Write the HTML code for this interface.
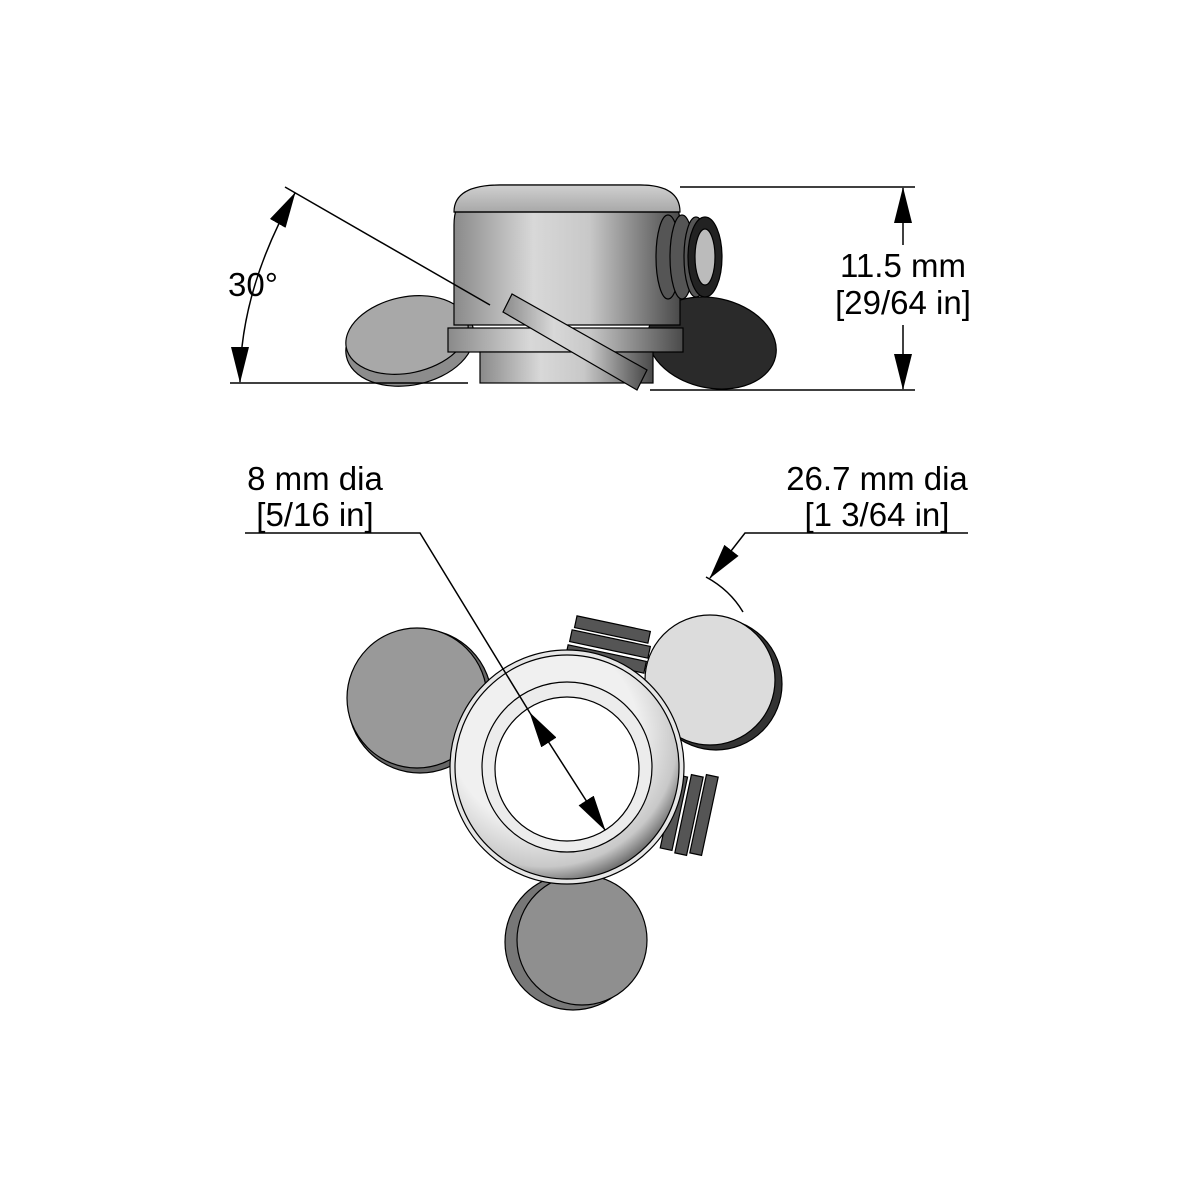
<!DOCTYPE html>
<html><head><meta charset="utf-8"><style>html,body{margin:0;padding:0;background:#fff}svg{display:block}</style></head>
<body>
<svg width="1200" height="1200" viewBox="0 0 1200 1200" xmlns="http://www.w3.org/2000/svg" font-family="Liberation Sans, sans-serif">
<defs>
<linearGradient id="cyl" x1="0" x2="1" y1="0" y2="0">
<stop offset="0" stop-color="#8a8a8a"/><stop offset="0.35" stop-color="#d8d8d8"/><stop offset="0.6" stop-color="#c8c8c8"/><stop offset="1" stop-color="#4a4a4a"/></linearGradient>
<linearGradient id="top" x1="0" x2="0" y1="0" y2="1"><stop offset="0" stop-color="#d0d0d0"/><stop offset="1" stop-color="#a8a8a8"/></linearGradient>
<radialGradient id="ring" cx="0.4" cy="0.35" r="0.7"><stop offset="0.6" stop-color="#f0f0f0"/><stop offset="0.85" stop-color="#c8c8c8"/><stop offset="1" stop-color="#555"/></radialGradient>
<marker id="ar" markerWidth="36" markerHeight="18" refX="35" refY="9" orient="auto-start-reverse" markerUnits="userSpaceOnUse" viewBox="0 0 36 18"><path d="M0,0 L36,9 L0,18 z" fill="#000"/></marker>
</defs>
<g stroke="#000" stroke-width="1.2">
<ellipse cx="410" cy="343" rx="65" ry="42" fill="#8c8c8c" transform="rotate(-12 410 343)"/>
<ellipse cx="407" cy="335" rx="62" ry="38" fill="#a8a8a8" transform="rotate(-12 407 335)"/>
<ellipse cx="712" cy="343" rx="65" ry="45" fill="#2a2a2a" transform="rotate(12 712 343)"/>
<path d="M454,325 L454,225 Q454,185 500,185 L640,185 Q680,185 680,225 L680,325 Z" fill="url(#cyl)"/>
<path d="M454,212 Q454,185 500,185 L640,185 Q680,185 680,212 Z" fill="url(#top)"/>
<line x1="454" y1="212" x2="680" y2="212"/>
<rect x="448" y="328" width="235" height="24" fill="url(#cyl)"/>
<rect x="480" y="352" width="173" height="31" fill="url(#cyl)"/>
<polygon points="512,294 503,312 637,390 647,370" fill="url(#cyl)"/>
<g fill="#555"><ellipse cx="668" cy="257" rx="12" ry="42"/><ellipse cx="682" cy="257" rx="12" ry="42"/><ellipse cx="696" cy="257" rx="12" ry="40"/></g>
<ellipse cx="705" cy="257" rx="17" ry="40" fill="#222"/>
<ellipse cx="705" cy="257" rx="10" ry="28" fill="#bbb"/>
</g>
<g stroke="#000" stroke-width="1.5" fill="none">
<line x1="230" y1="383" x2="468" y2="383"/>
<line x1="285" y1="187" x2="490" y2="305"/>
<path d="M295,193 Q240,290 240,382" marker-start="url(#ar)" marker-end="url(#ar)"/>
<line x1="680" y1="187" x2="915" y2="187"/>
<line x1="650" y1="390" x2="915" y2="390"/>
<line x1="903" y1="245" x2="903" y2="188" marker-end="url(#ar)"/>
<line x1="903" y1="325" x2="903" y2="389" marker-end="url(#ar)"/>
</g>
<g font-size="33" fill="#000">
<text x="253" y="296" text-anchor="middle">30°</text>
<text x="903" y="277" text-anchor="middle">11.5 mm</text>
<text x="903" y="314" text-anchor="middle">[29/64 in]</text>
<text x="315" y="490" text-anchor="middle">8 mm dia</text>
<text x="315" y="526" text-anchor="middle">[5/16 in]</text>
<text x="877" y="490" text-anchor="middle">26.7 mm dia</text>
<text x="877" y="526" text-anchor="middle">[1 3/64 in]</text>
</g>
<g stroke="#000" stroke-width="1.2">
<circle cx="420" cy="701" r="72" fill="#666"/>
<circle cx="417" cy="698" r="70" fill="#999"/>
<circle cx="716" cy="684" r="66" fill="#333"/>
<circle cx="710" cy="680" r="65" fill="#dcdcdc"/>
<circle cx="573" cy="942" r="68" fill="#777"/>
<circle cx="582" cy="940" r="65" fill="#8f8f8f"/>
<g fill="#555"><rect x="575" y="623" width="75" height="12" transform="rotate(12 610 629)"/><rect x="570" y="638" width="80" height="12" transform="rotate(12 610 644)"/><rect x="566" y="653" width="80" height="12" transform="rotate(12 606 659)"/></g>
<g fill="#555"><rect x="668" y="775" width="12" height="75" transform="rotate(12 674 812)"/><rect x="683" y="775" width="12" height="80" transform="rotate(12 689 815)"/><rect x="698" y="775" width="12" height="80" transform="rotate(12 704 815)"/></g>
<circle cx="567" cy="767" r="117" fill="#e6e6e6"/>
<circle cx="567" cy="767" r="112" fill="url(#ring)"/>
<circle cx="567" cy="767" r="85" fill="#ececec"/>
<circle cx="567" cy="769" r="72" fill="#fff"/>
</g>
<g stroke="#000" stroke-width="1.5" fill="none">
<polyline points="245,533 420,533 530,713"/>
<line x1="530" y1="713" x2="605" y2="830" marker-start="url(#ar)" marker-end="url(#ar)"/>
<polyline points="968,533 745,533 710,578" marker-end="url(#ar)"/>
<path d="M706,577 Q730,590 743,612"/>
</g>
</svg>
</body></html>
